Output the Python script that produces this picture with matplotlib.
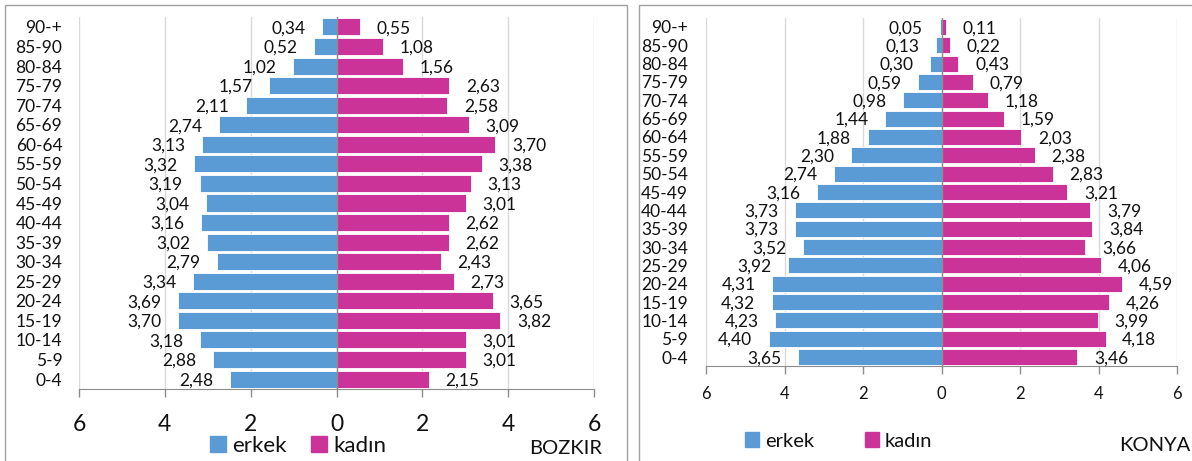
import matplotlib
matplotlib.use('Agg')
import matplotlib.pyplot as plt
from matplotlib.patches import Rectangle, Patch

plt.rcParams['font.family'] = ['Lato', 'DejaVu Sans']

ages = ['0-4', '5-9', '10-14', '15-19', '20-24', '25-29', '30-34', '35-39', '40-44',
        '45-49', '50-54', '55-59', '60-64', '65-69', '70-74', '75-79', '80-84', '85-90', '90-+']

bozkir_erkek = [2.48, 2.88, 3.18, 3.70, 3.69, 3.34, 2.79, 3.02, 3.16, 3.04,
                3.19, 3.32, 3.13, 2.74, 2.11, 1.57, 1.02, 0.52, 0.34]
bozkir_kadin = [2.15, 3.01, 3.01, 3.82, 3.65, 2.73, 2.43, 2.62, 2.62, 3.01,
                3.13, 3.38, 3.70, 3.09, 2.58, 2.63, 1.56, 1.08, 0.55]
konya_erkek = [3.65, 4.40, 4.23, 4.32, 4.31, 3.92, 3.52, 3.73, 3.73, 3.16,
               2.74, 2.30, 1.88, 1.44, 0.98, 0.59, 0.30, 0.13, 0.05]
konya_kadin = [3.46, 4.18, 3.99, 4.26, 4.59, 4.06, 3.66, 3.84, 3.79, 3.21,
               2.83, 2.38, 2.03, 1.59, 1.18, 0.79, 0.43, 0.22, 0.11]

ticks = [-6, -4, -2, 0, 2, 4, 6]
blue = '#5B9BD5'
pink = '#CC3399'
ink = '#111111'
W, H = 1192, 461

fig = plt.figure(figsize=(W / 100, H / 100), dpi=100)


def px_axes(x0, x1, ytop, ybot):
    return fig.add_axes([x0 / W, 1 - ybot / H, (x1 - x0) / W, (ybot - ytop) / H])


def pyramid(ax, erkek, kadin, tick_size, tick_pad, ylab_pad):
    y = range(len(ages))
    ax.barh(y, [-v for v in erkek], height=0.87, color=blue, edgecolor='white', linewidth=0.6, zorder=3)
    ax.barh(y, kadin, height=0.87, color=pink, edgecolor='white', linewidth=0.6, zorder=3)
    for i in y:
        ax.annotate(f'{erkek[i]:.2f}'.replace('.', ','), (-erkek[i], i), xytext=(-12, -1),
                    textcoords='offset points', ha='right', va='center', fontsize=12.5, color=ink)
        ax.annotate(f'{kadin[i]:.2f}'.replace('.', ','), (kadin[i], i), xytext=(12, -1),
                    textcoords='offset points', ha='left', va='center', fontsize=12.5, color=ink)
    ax.set_xlim(-6, 6)
    ax.set_ylim(-0.5, len(ages) - 0.5)
    ax.set_xticks(ticks)
    ax.set_xticklabels([str(abs(t)) for t in ticks], color=ink)
    ax.set_yticks(list(y))
    ax.set_yticklabels(ages, fontsize=12.5, color=ink)
    ax.tick_params(axis='y', length=0, pad=ylab_pad)
    ax.tick_params(axis='x', length=6, width=1, color='#8c8c8c', labelsize=tick_size,
                   pad=tick_pad, direction='out')
    for t in ticks:
        ax.axvline(t, color='#d9d9d9', linewidth=1, zorder=1)
    ax.axvline(0, color='#8c8c8c', linewidth=1, zorder=4)
    for s in ['top', 'left', 'right']:
        ax.spines[s].set_visible(False)
    ax.spines['bottom'].set_color('#8c8c8c')
    ax.set_facecolor('none')


# BOZKIR
ax1 = px_axes(79, 594, 17.2, 388.8)
pyramid(ax1, bozkir_erkek, bozkir_kadin, 16.5, 12, 12)
ax1.legend(handles=[Patch(color=blue, label='erkek'), Patch(color=pink, label='kadın')],
           loc='center left', bbox_to_anchor=(210 / W, 1 - 446 / H), bbox_transform=fig.transFigure,
           ncol=2, frameon=False, fontsize=16, handlelength=0.7, handleheight=0.7,
           handletextpad=0.3, columnspacing=1.1, borderpad=0, borderaxespad=0, labelcolor=ink)
fig.text(602 / W, 1 - 448 / H, 'BOZKIR', ha='right', va='center', fontsize=14.5, color=ink)

# KONYA
ax2 = px_axes(706, 1177, 17.8, 366.2)
pyramid(ax2, konya_erkek, konya_kadin, 12, 8, 13)
ax2.legend(handles=[Patch(color=blue, label='erkek'), Patch(color=pink, label='kadın')],
           loc='center left', bbox_to_anchor=(745 / W, 1 - 441 / H), bbox_transform=fig.transFigure,
           ncol=2, frameon=False, fontsize=14.5, handlelength=0.7, handleheight=0.7,
           handletextpad=0.3, columnspacing=2.5, borderpad=0, borderaxespad=0, labelcolor=ink)
fig.text(1190 / W, 1 - 445 / H, 'KONYA', ha='right', va='center', fontsize=14.5, color=ink)

# panel frames
fig.patches.append(Rectangle((5 / W, -0.1), 622 / W, 1.1 - 5 / H, transform=fig.transFigure,
                             fill=False, edgecolor='#a0a0a0', linewidth=1))
fig.patches.append(Rectangle((639 / W, -0.1), 600 / W, 1.1 - 5 / H, transform=fig.transFigure,
                             fill=False, edgecolor='#a0a0a0', linewidth=1))

fig.savefig('out.png', dpi=100)
